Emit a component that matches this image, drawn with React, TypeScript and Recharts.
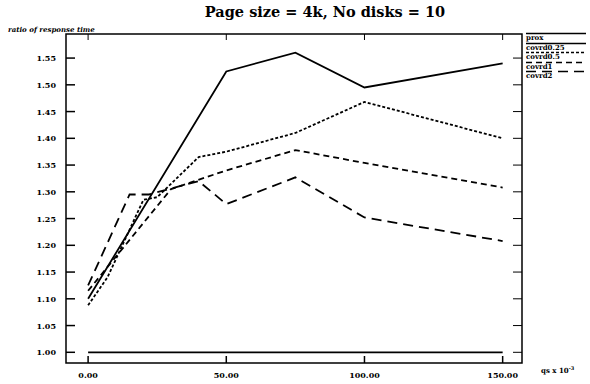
import { LineChart, Line, XAxis, YAxis, ReferenceArea } from 'recharts';

const xTicks = [0, 50, 100, 150];
const yTicks = [1.0, 1.05, 1.1, 1.15, 1.2, 1.25, 1.3, 1.35, 1.4, 1.45, 1.5, 1.55];

// qs (x 10^-3) and ratio of response time, one pair per series
const proxQs = [0, 150];
const proxRatio = [1.0, 1.0];
const covrd025Qs = [0, 50, 75, 100, 150];
const covrd025Ratio = [1.1, 1.525, 1.56, 1.495, 1.54];
const covrd05Qs = [0, 7, 20, 25, 40, 50, 75, 100, 150];
const covrd05Ratio = [1.088, 1.14, 1.285, 1.29, 1.365, 1.375, 1.41, 1.468, 1.4];
const covrd1Qs = [0, 30, 50, 75, 100, 150];
const covrd1Ratio = [1.115, 1.305, 1.34, 1.378, 1.354, 1.308];
const covrd2Qs = [0, 15, 22, 40, 50, 75, 100, 150];
const covrd2Ratio = [1.125, 1.295, 1.295, 1.32, 1.277, 1.327, 1.252, 1.208];

const zip = (qs: number[], r: number[]) => qs.map((q, i) => ({ qs: q, ratio: r[i] }));

const series = [
  { name: 'prox', data: zip(proxQs, proxRatio), dash: undefined },
  { name: 'covrd0.25', data: zip(covrd025Qs, covrd025Ratio), dash: undefined },
  { name: 'covrd0.5', data: zip(covrd05Qs, covrd05Ratio), dash: '3 2' },
  { name: 'covrd1', data: zip(covrd1Qs, covrd1Ratio), dash: '6 4' },
  { name: 'covrd2', data: zip(covrd2Qs, covrd2Ratio), dash: '10 6' },
];

const FONT = '"DejaVu Serif", serif';
const TOP = 34;
const LEFT = 66;
const RIGHT = 522;
const BOTTOM = 363;

const XTick = (props: any) => {
  const { x, payload } = props;
  return (
    <g>
      <line x1={x} y1={BOTTOM} x2={x} y2={BOTTOM - 7} stroke="#000" strokeWidth={1.5} />
      <line x1={x} y1={TOP} x2={x} y2={TOP + 6} stroke="#000" strokeWidth={1} />
      <text x={x} y={BOTTOM + 15} textAnchor="middle" fontFamily={FONT} fontWeight="bold" fontSize={8} fill="#000">
        {payload.value.toFixed(2)}
      </text>
    </g>
  );
};

const YTick = (props: any) => {
  const { y, payload } = props;
  return (
    <g>
      <line x1={LEFT} y1={y} x2={LEFT + 9} y2={y} stroke="#000" strokeWidth={1.5} />
      <line x1={RIGHT} y1={y} x2={RIGHT - 9} y2={y} stroke="#000" strokeWidth={1} />
      <text x={LEFT - 10} y={y + 3} textAnchor="end" fontFamily={FONT} fontWeight="bold" fontSize={8} fill="#000">
        {payload.value.toFixed(2)}
      </text>
    </g>
  );
};

export default function ResponseTimeChart() {
  return (
    <div style={{ position: 'absolute', left: 0, top: 0, width: 590, height: 384, background: '#fff' }}>
      <div style={{ position: 'absolute', left: 0, top: 3, width: 650, textAlign: 'center', fontFamily: FONT, fontWeight: 'bold', fontSize: 14.5 }}>
        Page size = 4k, No disks = 10
      </div>
      <div style={{ position: 'absolute', left: 8, top: 25, fontFamily: FONT, fontWeight: 'bold', fontStyle: 'italic', fontSize: 7 }}>
        ratio of response time
      </div>
      <div style={{ position: 'absolute', left: 541, top: 365, fontFamily: FONT, fontWeight: 'bold', fontSize: 7 }}>
        qs x 10<sup style={{ fontSize: 5 }}>-3</sup>
      </div>
      <div style={{ position: 'absolute', left: 526, top: 32, width: 60, fontFamily: FONT, fontWeight: 'bold', fontSize: 7, lineHeight: 1 }}>
        {series.map((s) => (
          <div key={s.name} style={{ height: 9.5 }}>
            <svg width={60} height={3} style={{ display: 'block' }}>
              <line x1={0} y1={1.5} x2={60} y2={1.5} stroke="#000" strokeWidth={1.5} strokeDasharray={s.dash} />
            </svg>
            <div style={{ marginTop: -1 }}>{s.name}</div>
          </div>
        ))}
      </div>
      <LineChart width={590} height={384} margin={{ top: TOP, right: 590 - RIGHT, bottom: 384 - BOTTOM - 1, left: LEFT - 1 }}>
        <XAxis
          dataKey="qs"
          type="number"
          domain={[-8, 157]}
          ticks={xTicks}
          allowDataOverflow
          height={1}
          tickLine={false}
          axisLine={false}
          tick={(p: any) => <XTick {...p} />}
          interval={0}
        />
        <YAxis
          type="number"
          domain={[0.98, 1.595]}
          ticks={yTicks}
          allowDataOverflow
          width={1}
          tickLine={false}
          axisLine={false}
          tick={(p: any) => <YTick {...p} />}
          interval={0}
        />
        <ReferenceArea x1={-8} x2={157} y1={0.98} y2={1.595} fill="none" fillOpacity={0} stroke="#000" strokeWidth={1.5} />
        {series.map((s) => (
          <Line
            key={s.name}
            data={s.data}
            dataKey="ratio"
            name={s.name}
            type="linear"
            stroke="#000"
            strokeWidth={1.8}
            strokeDasharray={s.dash}
            dot={false}
            isAnimationActive={false}
          />
        ))}
      </LineChart>
    </div>
  );
}
